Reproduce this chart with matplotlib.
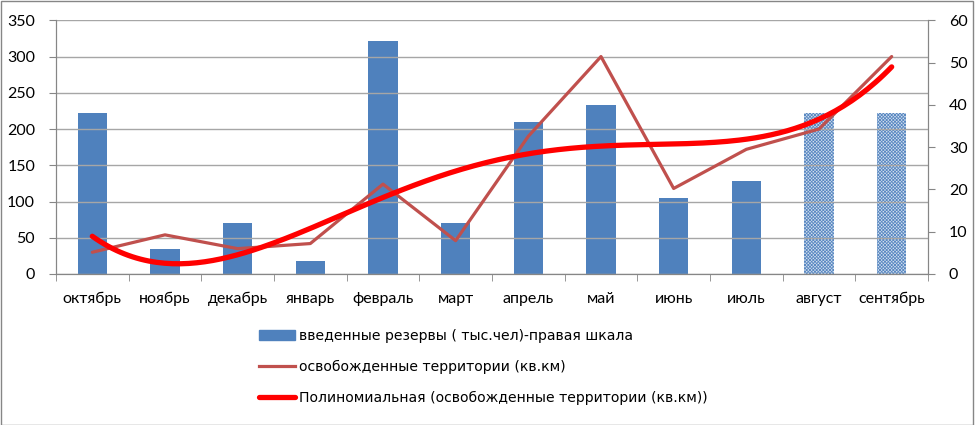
import numpy as np
import matplotlib
matplotlib.use('Agg')
import matplotlib.pyplot as plt
from matplotlib.patches import Rectangle, Patch
from matplotlib.lines import Line2D

plt.rcParams['font.family'] = ['Lato', 'DejaVu Sans']
plt.rcParams['hatch.linewidth'] = 0.6

months = ['октябрь', 'ноябрь', 'декабрь', 'январь', 'февраль', 'март',
          'апрель', 'май', 'июнь', 'июль', 'август', 'сентябрь']
reserves = [38, 6, 12, 3, 55, 12, 36, 40, 18, 22, 38, 38]   # тыс. чел, правая шкала
territory = [30, 54, 35, 42, 124, 46, 190, 300, 118, 172, 200, 300]  # кв. км
forecast = [False] * 10 + [True, True]   # последние два месяца - штриховка

blue = '#4F81BD'
x = np.arange(len(months))

fig = plt.figure(figsize=(9.75, 4.25), dpi=100)
ax = fig.add_axes([0.0574, 0.3553, 0.8944, 0.5969])
ax2 = ax.twinx()

# bars on right scale
for xi, v, f in zip(x, reserves, forecast):
    if f:
        ax2.bar(xi, v, width=0.4, facecolor='#D4E0EF', edgecolor='#5A89C2',
                hatch='xxxxxxxxxx', linewidth=0, zorder=2)
    else:
        ax2.bar(xi, v, width=0.4, color=blue, zorder=2)

ax.set_zorder(ax2.get_zorder() + 1)
ax.patch.set_visible(False)

ax.plot(x, territory, color='#C0504D', lw=2.3, zorder=3, solid_capstyle='round')

# polynomial trendline (4th degree) fitted to the data, like Excel does
xs = np.linspace(0, len(months) - 1, 200)
coef = np.polyfit(x + 1, territory, 4)
ax.plot(xs, np.polyval(coef, xs + 1), color='#FF0000', lw=3.8, zorder=4,
        solid_capstyle='round')

ax.set_xlim(-0.5, len(months) - 0.5)
ax.set_ylim(0, 350)
ax2.set_ylim(0, 60)
ax.set_yticks(np.arange(0, 351, 50))
ax2.set_yticks(np.arange(0, 61, 10))
ax.grid(axis='y', color='#A6A6A6', lw=1)
ax.set_axisbelow(True)

ax.set_xticks(x)
ax.set_xticklabels(months)
ax.set_xticks(np.arange(-0.5, len(months), 1), minor=True)
ax.tick_params(axis='x', which='major', length=0, pad=13, labelsize=11.5)
ax.tick_params(axis='x', which='minor', length=5, color='#868686')
ax.tick_params(axis='y', length=5, color='#868686', labelsize=11.5, pad=10)
ax2.tick_params(axis='y', length=5, color='#868686', labelsize=11.5, pad=10)

for a in (ax, ax2):
    a.spines['top'].set_visible(False)
    for s in ('left', 'right', 'bottom'):
        a.spines[s].set_color('#868686')

handles = [Patch(color=blue),
           Line2D([], [], color='#C0504D', lw=2.3),
           Line2D([], [], color='#FF0000', lw=3.8, solid_capstyle='round')]
labels = ['введенные резервы ( тыс.чел)-правая шкала',
          'освобожденные территории (кв.км)',
          'Полиномиальная (освобожденные территории (кв.км))']
fig.legend(handles, labels, loc='center left', bbox_to_anchor=(0.258, 0.137),
           frameon=False, prop={'family': 'DejaVu Sans', 'size': 10.1},
           handlelength=2.6, handletextpad=0.25, labelspacing=1.2, borderpad=0)

fig.add_artist(Rectangle((0.001, 0.001), 0.997, 0.996, transform=fig.transFigure,
                         fill=False, edgecolor='#868686', lw=1))
fig.savefig('out.png')
